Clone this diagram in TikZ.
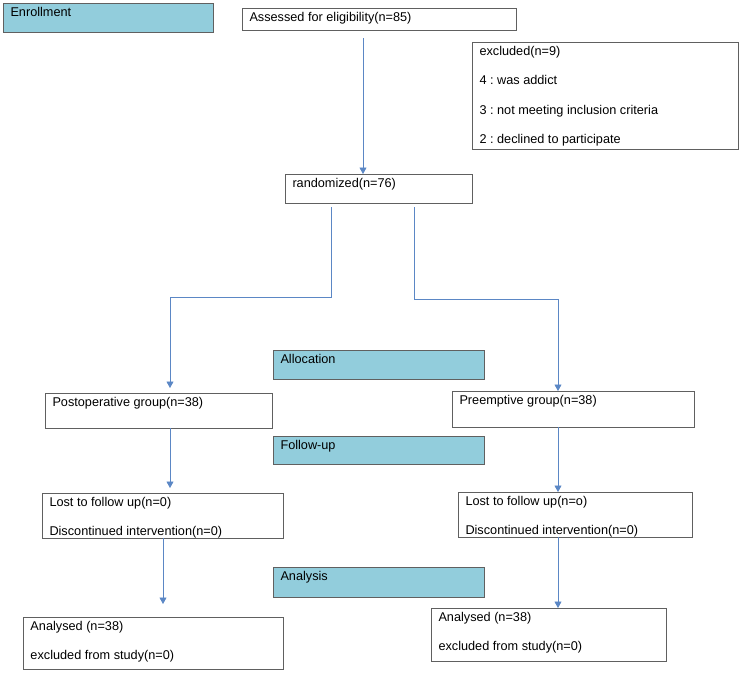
\documentclass[tikz,border=0pt]{standalone}
\usepackage{fontspec}
\setmainfont{Liberation Sans}
\usetikzlibrary{arrows.meta,calc}
\definecolor{hdrfill}{HTML}{92CDDC}
\definecolor{edgegray}{HTML}{606060}
\definecolor{linkblue}{HTML}{5B87C5}
\frenchspacing
\newcommand{\bxt}[3]{\parbox[t][#2pt][t]{#1pt}{\raggedright\frenchspacing\rule{0pt}{13pt}#3}}
\tikzset{
 box/.style={draw=edgegray, line width=1pt, anchor=north west, inner xsep=7.5pt, inner ysep=0pt, outer sep=0pt, font=\fontsize{12.7pt}{29.5pt}\selectfont},
 hdr/.style={box, fill=hdrfill},
 link/.style={draw=linkblue, line width=0.9pt},
 arr/.style={link, -{Triangle[width=7pt,length=6.5pt]}}
}
\begin{document}
\begin{tikzpicture}[x=1pt,y=-1pt]
\useasboundingbox (0,0) rectangle (750,673);
\node[hdr] (enroll) at (3,3) {\bxt{195}{29}{Enrollment}};
\node[box] (assess) at (242,8) {\bxt{259}{22}{Assessed for eligibility(n=85)}};
\node[box] (excl) at (472,42) {\bxt{251}{107}{excluded(n=9)\\4 : was addict\\3 : not meeting inclusion criteria\\2 : declined to participate}};
\node[box] (random) at (285,174) {\bxt{172}{29}{randomized(n=76)}};
\node[hdr] (alloc) at (273,350) {\bxt{196}{29}{Allocation}};
\node[box] (postop) at (45,393) {\bxt{212}{35}{Postoperative group(n=38)}};
\node[box] (preemp) at (452,391) {\bxt{227}{36}{Preemptive group(n=38)}};
\node[hdr] (follow) at (273,436) {\bxt{196}{28}{Follow-up}};
\node[box] (lostL) at (42,493) {\bxt{226}{45}{Lost to follow up(n=0)\\Discontinued intervention(n=0)}};
\node[box] (lostR) at (458,492) {\bxt{219}{45}{Lost to follow up(n=o)\\Discontinued intervention(n=0)}};
\node[hdr] (analysis) at (273,567) {\bxt{196}{30}{Analysis}};
\node[box] (analL) at (23,617) {\bxt{245}{52}{Analysed (n=38)\\excluded from study(n=0)}};
\node[box] (analR) at (431,608) {\bxt{220}{53}{Analysed (n=38)\\excluded from study(n=0)}};
\coordinate (xa) at (363,0);
\coordinate (xb) at (331,0);
\coordinate (xc) at (414,0);
\coordinate (xl) at (170,0);
\coordinate (xr) at (558,0);
\coordinate (xl2) at (163,0);
\coordinate (ml) at (0,297);
\coordinate (mr) at (0,299);
\draw[arr] ([yshift=-8pt]assess.south -| xa) -- (random.north -| xa);
\draw[arr, shorten >=5pt] ([yshift=-4pt]random.south -| xb) -- (xb |- ml) -| (postop.north -| xl);
\draw[arr] ([yshift=-4pt]random.south -| xc) -- (xc |- mr) -| (preemp.north -| xr);
\draw[arr, shorten >=5pt] (postop.south -| xl) -- (lostL.north -| xl);
\draw[arr] (preemp.south -| xr) -- (lostR.north -| xr);
\draw[arr, shorten >=13pt] (lostL.south -| xl2) -- (analL.north -| xl2);
\draw[arr] (lostR.south -| xr) -- (analR.north -| xr);
\end{tikzpicture}
\end{document}
